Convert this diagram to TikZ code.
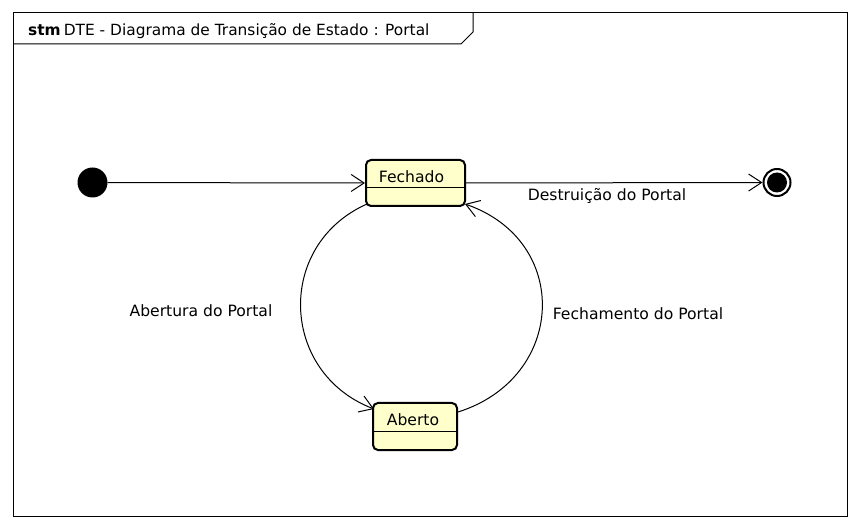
\documentclass[tikz,border=0pt]{standalone}
\usepackage{fontspec}
\setmainfont{DejaVu Sans}
\usetikzlibrary{arrows.meta,calc}
\definecolor{statefill}{RGB}{255,255,204}
\tikzset{
  statebox/.style={draw=black, line width=2pt, fill=statefill, rounded corners=5pt, inner sep=0pt},
  trans/.style={draw=black, line width=1pt, -{Straight Barb[length=13pt,width=17pt,line width=1pt]}},
  lbl/.style={inner sep=0pt, font=\fontsize{15.6}{18}\selectfont},
  ttl/.style={inner sep=0pt, font=\fontsize{15.4}{18}\selectfont},
  frameline/.style={draw=black, line width=1pt},
}
\begin{document}
\begin{tikzpicture}[x=1pt,y=-1pt]
\useasboundingbox (0,0) rectangle (860,529);
\fill[white] (0,0) rectangle (860,529);
% frame
\draw[frameline] (13,13) rectangle (847,516);
\coordinate (tabA) at (13,44);
\coordinate (tabB) at (461,44);
\coordinate (tabC) at (473,32);
\coordinate (tabD) at (473,13);
\draw[frameline] (tabA) -- (tabB) -- (tabC) -- (tabD);
\node[ttl, anchor=base west] (title) at (28,36) {\textbf{stm}\hspace{0.2em}DTE - Diagrama de Transição de Estado : Portal};
% states
\node[statebox, minimum width=99pt, minimum height=46pt] (fechado) at (415.5,183) {};
\draw[line width=1pt] ($(fechado.north west)+(0,29)$) -- ($(fechado.north east)+(0,29)$);
\node[lbl, anchor=base] (fechadoT) at (411.5,183) {Fechado};
\node[statebox, minimum width=84pt, minimum height=47pt] (aberto) at (415,426.5) {};
\draw[line width=1pt] ($(aberto.north west)+(0,29)$) -- ($(aberto.north east)+(0,29)$);
\node[lbl, anchor=base] (abertoT) at (413,425) {Aberto};
% pseudo states
\node[circle, fill=black, minimum size=30pt, inner sep=0pt] (initial) at (92.5,182.5) {};
\node[circle, draw=black, line width=2pt, minimum size=27pt, inner sep=0pt] (final) at (777,182.5) {};
\fill[black] (final.center) circle (10);
% transitions
\draw[trans] (initial) -- (fechado.west);
\draw[trans] (fechado.east) -- (final.west);
\draw[trans] ($(fechado.south west)+(2,-3)$) .. controls (275,245) and (280,373) .. ($(aberto.north west)+(2,7)$);
\draw[trans] ($(aberto.north east)+(0,10)$) .. controls (566,378) and (572,241) .. ($(fechado.south east)+(-1,-3)$);
% labels
\node[lbl] (l1) at (607,196) {Destruição do Portal};
\node[lbl] (l2) at (201,311) {Abertura do Portal};
\node[lbl] (l3) at (638,314) {Fechamento do Portal};
\end{tikzpicture}
\end{document}
